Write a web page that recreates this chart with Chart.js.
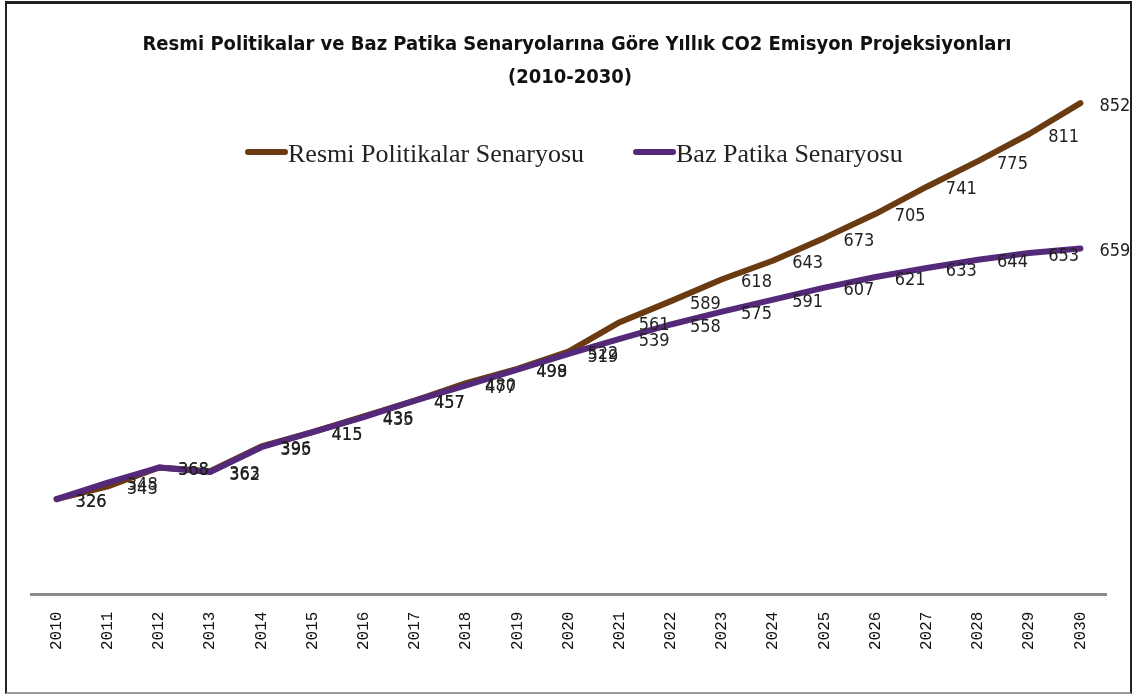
<!DOCTYPE html>
<html>
<head>
<meta charset="utf-8">
<script src="https://cdn.jsdelivr.net/npm/chart.js@4/dist/chart.umd.min.js"></script>
<style>
  html, body { margin: 0; padding: 0; background: #fff; }
  #wrap { position: relative; width: 1134px; height: 695px; }
  #frame { position: absolute; left: 5px; top: 1px; width: 1123px; height: 688px;
           border: 2px solid #222; border-top-width: 3px; border-bottom-color: #999; pointer-events: none; }
  canvas { position: absolute; left: 0; top: 0; }
</style>
</head>
<body>
<div id="wrap">
  <canvas id="canvas" width="1134" height="695"></canvas>
  <div id="frame"></div>
</div>
<script>
// years on the category axis
const years = ['2010', '2011', '2012', '2013', '2014', '2015', '2016', '2017', '2018', '2019', '2020',
               '2021', '2022', '2023', '2024', '2025', '2026', '2027', '2028', '2029', '2030'];

// Resmi Politikalar Senaryosu
const resmiValues = [326, 343, 368, 363, 396, 415, 436, 457, 480, 499, 522,
                     561, 589, 618, 643, 673, 705, 741, 775, 811, 852];

// Baz Patika Senaryosu
const bazValues = [326, 348, 368, 362, 395, 415, 435, 457, 477, 498, 519,
                   539, 558, 575, 591, 607, 621, 633, 644, 653, 659];

const titleLines = ['Resmi Politikalar ve Baz Patika Senaryolarına Göre Yıllık CO2 Emisyon Projeksiyonları', '(2010-2030)'];
const seriesNames = ['Resmi Politikalar Senaryosu', 'Baz Patika Senaryosu'];

const BROWN = '#6a3b10';
const PURPLE = '#55297a';

//value labels to the right of every point
const valueLabels = {
    id: 'valueLabels',
    afterDatasetsDraw(chart) {
        const ctx = chart.ctx;
        ctx.save();
        ctx.font = "18px 'Liberation Sans Narrow', 'DejaVu Sans Condensed', sans-serif";
        ctx.fillStyle = '#222';
        ctx.textAlign = 'left';
        ctx.textBaseline = 'middle';
        chart.data.datasets.forEach((ds, i) => {
            chart.getDatasetMeta(i).data.forEach((pt, j) => {
                ctx.fillText(ds.data[j], pt.x + 19, pt.y + 3);
            });
        });
        ctx.restore();
    }
};

//year labels, rotated to read bottom to top
const yearTicks = {
    id: 'yearTicks',
    afterDraw(chart) {
        const ctx = chart.ctx;
        const xs = chart.scales.x;
        ctx.save();
        ctx.font = "16px 'Liberation Mono', 'DejaVu Sans Mono', monospace";
        ctx.fillStyle = '#111';
        ctx.textAlign = 'left';
        ctx.textBaseline = 'middle';
        years.forEach((y, i) => {
            ctx.save();
            ctx.translate(xs.getPixelForValue(i), chart.chartArea.bottom + 56);
            ctx.rotate(-Math.PI / 2);
            ctx.fillText(y, 0, 0);
            ctx.restore();
        });
        ctx.restore();
    }
};

//title and legend sit over the plot like in the original
const titleLegend = {
    id: 'titleLegend',
    afterDraw(chart) {
        const ctx = chart.ctx;
        ctx.save();
        ctx.fillStyle = '#111';
        ctx.textAlign = 'center';
        ctx.textBaseline = 'middle';
        ctx.font = "bold 20px 'Liberation Sans Narrow', 'DejaVu Sans Condensed', sans-serif";
        ctx.fillText(titleLines[0], 577, 45);
        ctx.fillText(titleLines[1], 570, 78);

        const items = [
            { x: 245, color: BROWN, text: seriesNames[0] },
            { x: 633, color: PURPLE, text: seriesNames[1] }
        ];
        ctx.font = "26px 'Liberation Serif', 'DejaVu Serif', serif";
        ctx.textAlign = 'left';
        items.forEach(it => {
            ctx.strokeStyle = it.color;
            ctx.lineWidth = 6;
            ctx.lineCap = 'round';
            ctx.beginPath();
            ctx.moveTo(it.x + 3, 152);
            ctx.lineTo(it.x + 40, 152);
            ctx.stroke();
            ctx.fillStyle = '#222';
            ctx.fillText(it.text, it.x + 43, 155);
        });
        ctx.restore();
    }
};

const ctx = document.getElementById('canvas').getContext('2d');
new Chart(ctx, {
    type: 'line',
    data: {
        labels: years,
        datasets: [{
            label: seriesNames[0],
            data: resmiValues,
            borderColor: BROWN,
            backgroundColor: BROWN,
            borderWidth: 6,
            pointRadius: 0,
            borderCapStyle: 'round',
            borderJoinStyle: 'round',
            fill: false,
            order: 1
        }, {
            label: seriesNames[1],
            data: bazValues,
            borderColor: PURPLE,
            backgroundColor: PURPLE,
            borderWidth: 6,
            pointRadius: 0,
            borderCapStyle: 'round',
            borderJoinStyle: 'round',
            fill: false,
            order: 0
        }]
    },
    options: {
        responsive: false,
        animation: false,
        layout: { padding: { left: 31, right: 28, top: 67, bottom: 93 } },
        plugins: {
            legend: { display: false },
            title: { display: false },
            tooltip: { enabled: false }
        },
        scales: {
            x: {
                offset: true,
                grid: { display: false },
                border: { display: true, color: '#8a8a8a', width: 3 },
                ticks: { display: false }
            },
            y: {
                display: false,
                min: 200,
                max: 900
            }
        }
    },
    plugins: [valueLabels, yearTicks, titleLegend]
});
</script>
</body>
</html>
